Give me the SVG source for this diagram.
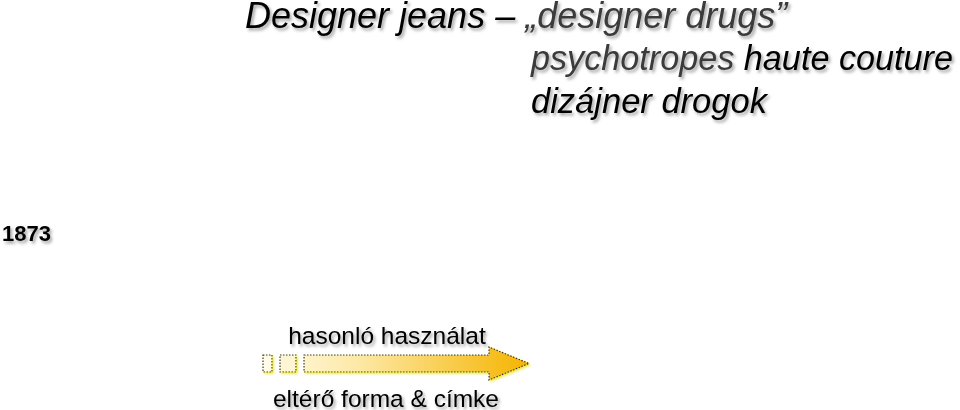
<svg xmlns="http://www.w3.org/2000/svg" width="960" height="410" viewBox="0 0 960 410">
<style>
.t{font-family:"Liberation Sans",Arial,sans-serif;filter:url(#sh)}
.it{font-style:italic}
.g{fill:#3a3a3a}
.k{fill:#000}
.lbl{font-size:24.5px;fill:#000}
.box{stroke:#333;stroke-width:1.2;stroke-dasharray:1.5 1.5}
</style>
<defs>
<filter id="sh" x="-5%" y="-20%" width="110%" height="160%">
<feDropShadow dx="2" dy="2.5" stdDeviation="1.5" flood-color="#000" flood-opacity="0.35"/>
</filter>
<linearGradient id="ag" x1="262" y1="0" x2="529" y2="0" gradientUnits="userSpaceOnUse">
<stop offset="0" stop-color="#fffbe6"/>
<stop offset="0.35" stop-color="#fde9a8"/>
<stop offset="1" stop-color="#f5b400"/>
</linearGradient>
<filter id="ysh" x="-10%" y="-30%" width="120%" height="160%">
<feDropShadow dx="1.5" dy="1.5" stdDeviation="0.8" flood-color="#e8e000" flood-opacity="0.8"/>
</filter>
</defs>
<g id="title">
<text class="t it" x="245" y="28" font-size="36"><tspan class="k">Designer jeans – </tspan><tspan class="g">„designer drugs”</tspan></text>
<text class="t it" x="531" y="70" font-size="34.2"><tspan class="g">psychotropes </tspan><tspan class="k">haute couture</tspan></text>
<text class="t it k" x="531" y="113" font-size="34.5">dizájner drogok</text>
</g>
<g id="year">
<text class="t" x="2" y="241" font-size="22" font-weight="bold" fill="#000">1873</text>
</g>
<g id="arrow" filter="url(#ysh)">
<rect class="box" x="263" y="355" width="9" height="17" fill="#fffbe6"/>
<rect class="box" x="280" y="355" width="16" height="17" fill="#fef5d4"/>
<path class="box" d="M304,355 H489 V347 L529,363.5 L489,380 V372 H304 Z" fill="url(#ag)"/>
</g>
<g id="labels">
<text class="t lbl" x="387" y="344" text-anchor="middle">hasonló használat</text>
<text class="t lbl" x="386" y="407" text-anchor="middle">eltérő forma &amp; címke</text>
</g>
</svg>
